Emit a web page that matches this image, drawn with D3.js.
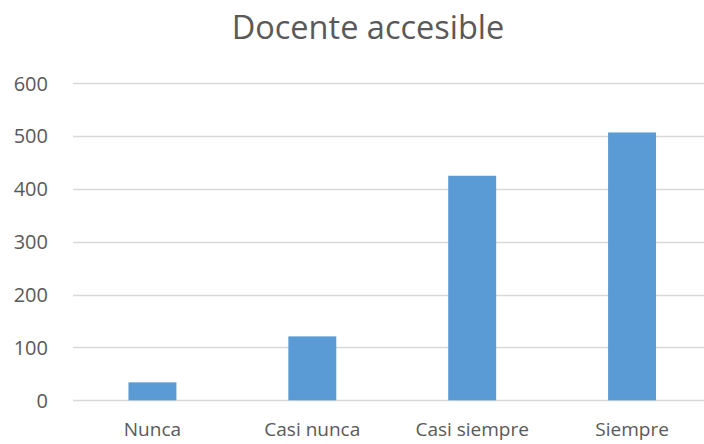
<!DOCTYPE html>
<html lang="en">
<head>
    <meta charset="utf-8">
    <script src="https://d3js.org/d3.v7.min.js"></script>
    <style>
        body { margin: 0; background: white; }
        svg text { fill: #595959; font-family: "Open Sans", sans-serif; }
    </style>
</head>
<body>
<script>
    // data
    const categories = ["Nunca", "Casi nunca", "Casi siempre", "Siempre"];
    const values = [34, 121, 425, 507];
    const yTicks = [0, 100, 200, 300, 400, 500, 600];
    const title = "Docente accesible";

    var width = 704, height = 444;

    var svg = d3.select("body").append("svg")
        .attr("width", width)
        .attr("height", height);

    var x = d3.scaleBand()
        .domain(categories)
        .range([72.5, 712])
        .paddingInner(0.7)
        .paddingOuter(0.35);

    var y = d3.scaleLinear()
        .domain([0, 600])
        .range([400.3, 83.3]);

    // gridlines
    svg.append("g").selectAll("line")
        .data(yTicks)
        .enter().append("line")
        .attr("x1", 73)
        .attr("x2", width)
        .attr("y1", d => Math.round(y(d)) + 0.5)
        .attr("y2", d => Math.round(y(d)) + 0.5)
        .attr("stroke", "#d9d9d9")
        .attr("stroke-width", 1.3);

    // y labels
    svg.append("g").selectAll("text")
        .data(yTicks)
        .enter().append("text")
        .attr("x", 48)
        .attr("y", d => y(d))
        .attr("dy", "0.36em")
        .attr("text-anchor", "end")
        .style("font-size", "20px")
        .text(d => d);

    // bars
    svg.append("g").selectAll("rect")
        .data(values)
        .enter().append("rect")
        .attr("x", (d, i) => x(categories[i]))
        .attr("width", x.bandwidth())
        .attr("y", d => y(d))
        .attr("height", d => y(0) - y(d))
        .attr("fill", "#5b9bd5");

    // x labels
    svg.append("g").selectAll("text")
        .data(categories)
        .enter().append("text")
        .attr("x", d => x(d) + x.bandwidth() / 2)
        .attr("y", 436)
        .attr("text-anchor", "middle")
        .style("font-size", "19px")
        .text(d => d);

    svg.append("text")
        .attr("x", 368)
        .attr("y", 39)
        .attr("text-anchor", "middle")
        .style("font-size", "32.5px")
        .text(title);
</script>
</body>
</html>
